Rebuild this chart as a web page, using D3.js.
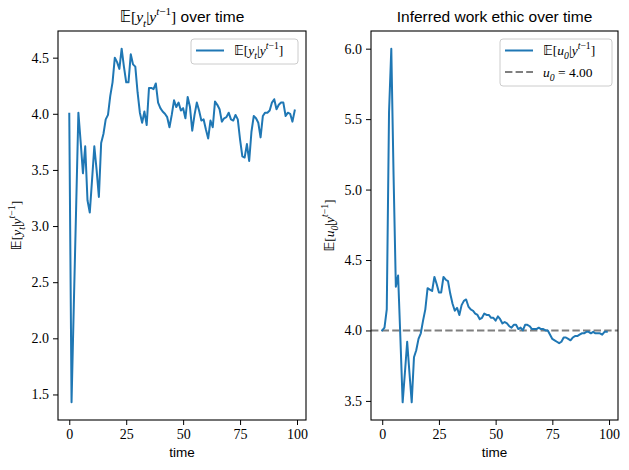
<!DOCTYPE html>
<html lang="en">
<head>
<meta charset="utf-8">
<script src="https://d3js.org/d3.v7.min.js"></script>
<style>
body { margin: 0; background: #fff; }
svg { display: block; }
.tick text { font-family: "Liberation Serif", "DejaVu Serif", serif; font-size: 14px; fill: #000; }
.tick line, .domain { stroke: #000; }
</style>
</head>
<body>
<div id="canvas"></div>
<script>
// time steps 0..99
var time = d3.range(0, 100);

// E[y_t | y^{t-1}]
var expectedY = [
  4.00, 1.43, 2.30, 3.15, 4.01, 3.75, 3.47, 3.71, 3.23, 3.12,
  3.41, 3.71, 3.50, 3.26, 3.74, 3.82, 3.95, 3.99, 4.16, 4.28,
  4.50, 4.46, 4.40, 4.58, 4.42, 4.28, 4.28, 4.53, 4.44, 4.42,
  4.19, 4.01, 3.92, 4.02, 3.90, 4.23, 4.23, 4.22, 4.27, 4.10,
  4.05, 4.02, 4.00, 3.97, 3.88, 3.99, 4.12, 4.06, 4.10, 4.03,
  4.05, 3.96, 4.15, 4.06, 3.85, 3.99, 4.10, 4.03, 3.94, 3.95,
  3.86, 3.78, 3.94, 3.88, 4.11, 4.08, 4.04, 3.93, 3.96, 3.97,
  4.01, 3.95, 3.94, 3.99, 3.95, 3.77, 3.62, 3.61, 3.73, 3.58,
  3.84, 3.98, 3.96, 3.92, 3.79, 3.98, 4.01, 4.01, 4.03, 4.10,
  4.13, 4.04, 4.08, 4.10, 4.10, 3.98, 4.01, 4.00, 3.93, 4.03
];

// E[u_0 | y^{t-1}]
var expectedU = [
  4.00, 4.02, 4.15, 5.55, 6.00, 5.10, 4.31, 4.39, 3.95, 3.49,
  3.70, 3.92, 3.70, 3.49, 3.81, 3.86, 3.94, 3.98, 4.07, 4.15,
  4.30, 4.29, 4.28, 4.38, 4.33, 4.27, 4.27, 4.38, 4.36, 4.35,
  4.26, 4.19, 4.14, 4.16, 4.11, 4.18, 4.21, 4.22, 4.17, 4.15,
  4.14, 4.12, 4.11, 4.08, 4.09, 4.12, 4.11, 4.11, 4.09, 4.09,
  4.07, 4.10, 4.08, 4.05, 4.06, 4.05, 4.03, 4.02, 4.04, 4.04,
  4.01, 4.02, 4.00, 4.04, 4.04, 4.03, 4.01, 4.01, 4.01, 4.02,
  4.01, 4.01, 4.00, 4.00, 3.97, 3.94, 3.93, 3.92, 3.91, 3.92,
  3.95, 3.95, 3.94, 3.93, 3.95, 3.96, 3.96, 3.97, 3.98, 3.98,
  3.99, 3.99, 3.98, 3.99, 3.98, 3.98, 3.98, 3.97, 3.99, 3.99
];

var trueU0 = 4.00;

var xTicks = [0, 25, 50, 75, 100];
var yTicksLeft = [1.5, 2.0, 2.5, 3.0, 3.5, 4.0, 4.5];
var yTicksRight = [3.5, 4.0, 4.5, 5.0, 5.5, 6.0];

var blue = "#1f77b4";
var grey = "#7f7f7f";

var svg = d3.select("#canvas").append("svg")
  .attr("width", 629)
  .attr("height", 470);

// matplotlib style 5% margin on the data range
function padded(arr) {
  var e = d3.extent(arr), m = (e[1] - e[0]) * 0.05;
  return [e[0] - m, e[1] + m];
}

// write a piece of "math" made of tspans
// parts: [text, kind] kind = rm | it | sub | sup | supr
function mathText(sel, parts, size) {
  var shift = 0;
  parts.forEach(function (p) {
    var kind = p[1], target = 0, fs = size;
    if (kind === "sub") { target = size * 0.3; fs = size * 0.72; }
    if (kind === "sup" || kind === "supr") { target = -size * 0.42; fs = size * 0.72; }
    var t = sel.append("tspan")
      .attr("dy", target - shift)
      .style("font-size", fs + "px")
      .text(p[0]);
    if (p[0] === "\u{1D53C}") t.style("font-family", "'DejaVu Sans', 'DejaVu Serif', serif");
    else t.style("font-family", "'Liberation Serif', 'DejaVu Serif', serif");
    if (kind === "it" || kind === "sub" || kind === "sup") t.style("font-style", "italic");
    shift = target;
  });
  if (shift !== 0) sel.append("tspan").attr("dy", -shift).text("");
}

var E = "\u{1D53C}";
var eyParts = [[E, "rm"], ["[", "rm"], ["y", "it"], ["t", "sub"], ["|", "rm"], ["y", "it"], ["t", "sup"], ["\u22121", "supr"], ["]", "rm"]];
var euParts = [[E, "rm"], ["[", "rm"], ["u", "it"], ["0", "sub"], ["|", "rm"], ["y", "it"], ["t", "sup"], ["\u22121", "supr"], ["]", "rm"]];

function drawPanel(opt) {
  var left = opt.left, right = opt.right, top = 31, bottom = 420;
  var x = d3.scaleLinear().domain(padded(time)).range([left, right]);
  var y = d3.scaleLinear().domain(padded(opt.data)).range([bottom, top]);
  var g = svg.append("g");

  if (opt.hline !== undefined) {
    g.append("line")
      .attr("x1", left).attr("x2", right)
      .attr("y1", y(opt.hline)).attr("y2", y(opt.hline))
      .attr("stroke", grey)
      .attr("stroke-width", 2)
      .attr("stroke-dasharray", "7.4,3.2");
  }

  var line = d3.line()
    .x(function (d, i) { return x(time[i]); })
    .y(function (d) { return y(d); });

  g.append("path")
    .datum(opt.data)
    .attr("fill", "none")
    .attr("stroke", blue)
    .attr("stroke-width", 2)
    .attr("stroke-linejoin", "round")
    .attr("stroke-linecap", "square")
    .attr("d", line);

  g.append("g")
    .attr("transform", "translate(0," + bottom + ")")
    .call(d3.axisBottom(x).tickValues(xTicks).tickSize(5).tickPadding(4).tickFormat(d3.format("d")));
  g.append("g")
    .attr("transform", "translate(" + left + ",0)")
    .call(d3.axisLeft(y).tickValues(opt.yTicks).tickSize(5).tickPadding(4).tickFormat(d3.format(".1f")));

  g.selectAll(".domain").remove();
  g.append("rect")
    .attr("x", left).attr("y", top)
    .attr("width", right - left).attr("height", bottom - top)
    .attr("fill", "none").attr("stroke", "#000").attr("stroke-width", 1.1);

  // title
  var title = g.append("text")
    .attr("x", (left + right) / 2).attr("y", 22)
    .attr("text-anchor", "middle")
    .style("font-family", "'Liberation Sans', sans-serif")
    .style("font-size", "15.5px");
  if (opt.titleMath) {
    mathText(title, opt.titleMath, 15.5);
    title.append("tspan").style("font-family", "'Liberation Sans', sans-serif").text(" over time");
  } else {
    title.text(opt.title);
  }

  g.append("text")
    .attr("x", (left + right) / 2).attr("y", 457)
    .attr("text-anchor", "middle")
    .style("font-family", "'Liberation Sans', sans-serif")
    .style("font-size", "13.5px")
    .text("time");

  var yl = g.append("text")
    .attr("transform", "translate(" + opt.ylabelX + "," + ((top + bottom) / 2) + ") rotate(-90)")
    .attr("text-anchor", "middle");
  mathText(yl, opt.ylabel, 13.5);

  // legend
  var lg = g.append("g");
  lg.append("rect")
    .attr("x", opt.legend.x).attr("y", 39)
    .attr("width", opt.legend.w).attr("height", opt.legend.h)
    .attr("rx", 3)
    .attr("fill", "#fff").attr("fill-opacity", 0.8)
    .attr("stroke", "#cccccc");
  opt.legend.items.forEach(function (it, k) {
    var ly = 50.5 + k * 21.5;
    lg.append("line")
      .attr("x1", opt.legend.x + 5).attr("x2", opt.legend.x + 33)
      .attr("y1", ly).attr("y2", ly)
      .attr("stroke", it.color).attr("stroke-width", 2)
      .attr("stroke-dasharray", it.dash || null);
    var t = lg.append("text")
      .attr("x", opt.legend.x + 43).attr("y", ly + 4.5);
    mathText(t, it.parts, 13.5);
  });
}

drawPanel({
  left: 58, right: 306,
  data: expectedY,
  yTicks: yTicksLeft,
  titleMath: eyParts,
  ylabel: eyParts,
  ylabelX: 21,
  legend: { x: 191, w: 107, h: 25, items: [{ color: blue, parts: eyParts }] }
});

drawPanel({
  left: 371, right: 618,
  data: expectedU,
  hline: trueU0,
  yTicks: yTicksRight,
  title: "Inferred work ethic over time",
  ylabel: euParts,
  ylabelX: 334,
  legend: { x: 500, w: 112, h: 47, items: [
    { color: blue, parts: euParts },
    { color: grey, dash: "7.4,3.2", parts: [["u", "it"], ["0", "sub"], [" = 4.00", "rm"]] }
  ] }
});
</script>
</body>
</html>
